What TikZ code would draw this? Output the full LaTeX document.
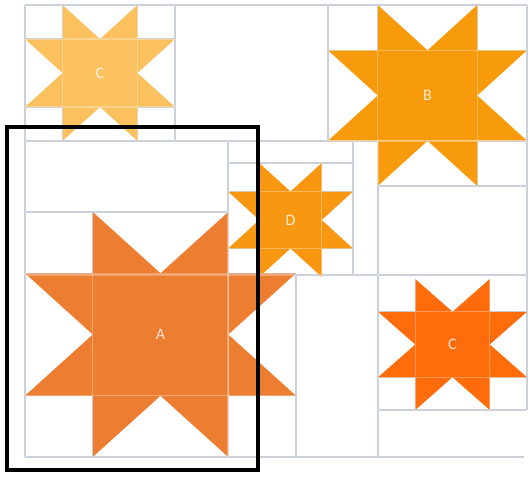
\documentclass[tikz,border=0pt]{standalone}
\usepackage{fontspec}
\newfontfamily\labelfont{Carlito}
\usepackage{tikz}
\definecolor{gridblue}{RGB}{180,190,207}
\definecolor{starA}{RGB}{237,125,49}
\definecolor{starB}{RGB}{247,155,12}
\definecolor{starC}{RGB}{251,193,94}
\definecolor{starD}{RGB}{248,152,18}
\definecolor{starE}{RGB}{255,108,12}

% cuts of the sheet: y/from/to and x/from/to
\newcommand{\hcuts}{5/25/527, 141/25/527, 163/228/353, 186/378/527,
  212/25/228, 275/25/527, 410/378/527, 457/25/524}
\newcommand{\vcuts}{25/5/457, 175/5/141, 328/5/141, 527/5/410,
  228/141/457, 353/141/275, 378/141/457, 296/275/457}
% star blocks: x/y/width/height/colour/label
\newcommand{\blocks}{25/5/150/136/starC/C, 328/5/199/181/starB/B,
  228/163/125/114/starD/D, 25/212/271/245/starA/A, 378/279/149/131/starE/C}

\begin{document}
\begin{tikzpicture}[x=0.5pt, y=-0.5pt,
    cut/.style={gridblue, line width=0.6pt},
    sheen/.style={white, opacity=0.3, line width=0.6pt},
    tag/.style={text=white, text opacity=0.8, inner sep=0pt,
      font=\labelfont\fontsize{8}{9}\selectfont}]
    \useasboundingbox (0,0) rectangle (530,477);

    % Cutting lines
    \foreach \y/\xa/\xb in \hcuts \draw[cut] (\xa,\y) -- (\xb,\y);
    \foreach \x/\ya/\yb in \vcuts \draw[cut] (\x,\ya) -- (\x,\yb);

    % Sawtooth stars
    \foreach \x/\y/\w/\h/\col/\lbl in \blocks {
        \begin{scope}[shift={(\x,\y)}, xscale=\w/4, yscale=\h/4]
            \draw[cut] (1,0) -- (1,4) (3,0) -- (3,4) (0,1) -- (4,1) (0,3) -- (4,3);
            \fill[\col] (1,0) -- (2,1) -- (3,0) -- (3,1) -- (4,1) -- (3,2)
                -- (4,3) -- (3,3) -- (3,4) -- (2,3) -- (1,4) -- (1,3)
                -- (0,3) -- (1,2) -- (0,1) -- (1,1) -- cycle;
        \end{scope}
    }

    % Lines showing through the stars
    \foreach \y/\xa/\xb in \hcuts \draw[sheen] (\xa,\y) -- (\xb,\y);
    \foreach \x/\ya/\yb in \vcuts \draw[sheen] (\x,\ya) -- (\x,\yb);
    \foreach \x/\y/\w/\h/\col/\lbl [count=\i] in \blocks {
        \begin{scope}[shift={(\x,\y)}, xscale=\w/4, yscale=\h/4]
            \draw[sheen] (1,0) -- (1,4) (3,0) -- (3,4) (0,1) -- (4,1) (0,3) -- (4,3);
        \end{scope}
        \node[tag] (lbl\i) at ({\x+\w/2},{\y+\h/2}) {\lbl};
    }

    % Selection frame
    \draw[line width=2.25pt] (7,127) rectangle (258,470);
\end{tikzpicture}
\end{document}
